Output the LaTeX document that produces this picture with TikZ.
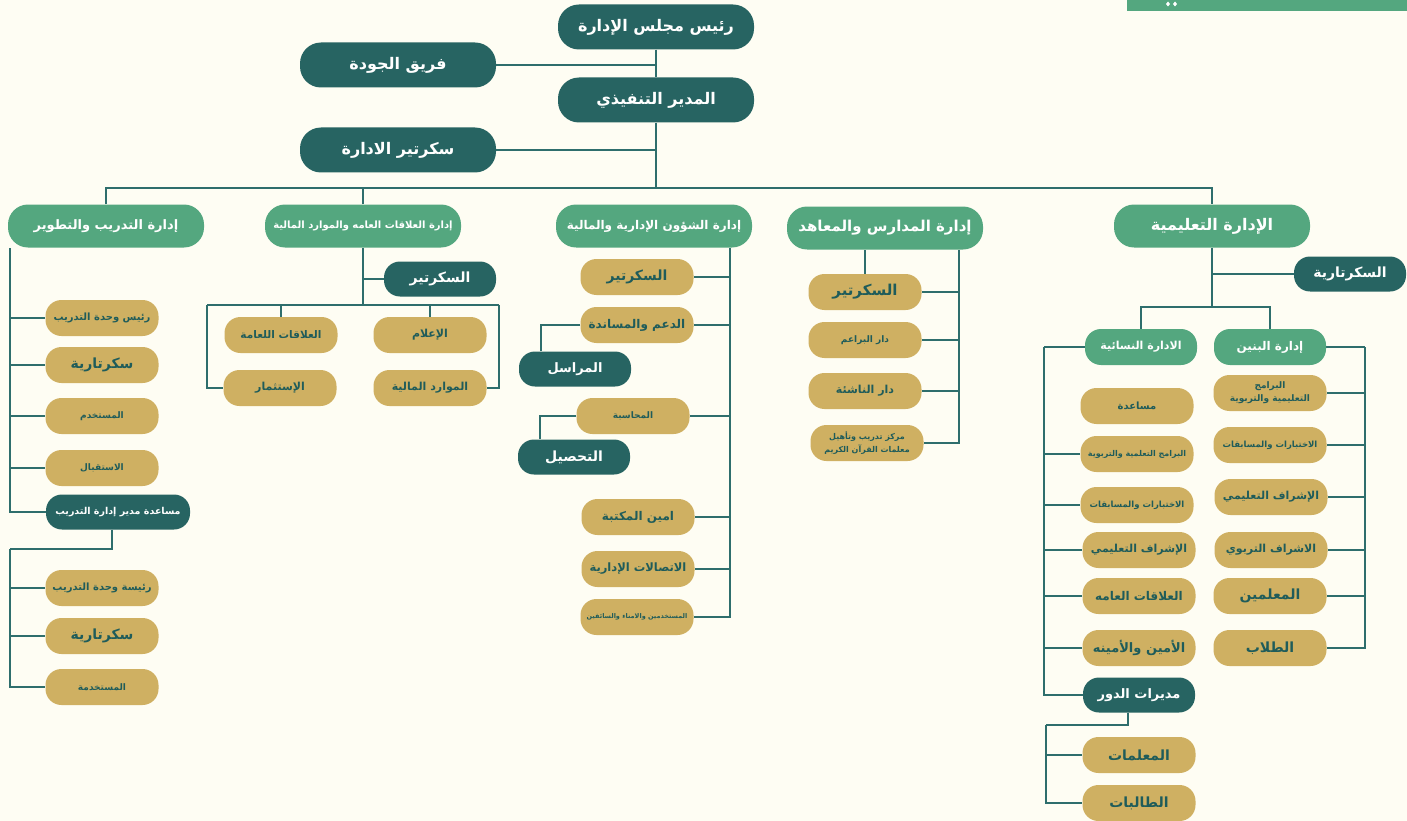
\documentclass[tikz,border=0pt]{standalone}
\usepackage{fontspec}
\newfontfamily\arabicfont[Script=Arabic]{DejaVu Sans}
\TeXXeTstate=1
\newcommand{\artx}[1]{\raisebox{-1.5pt}{\beginR #1\endR}}
\definecolor{bgc}{HTML}{FEFDF3}
\definecolor{dteal}{HTML}{276462}
\definecolor{dgreen}{HTML}{54A77F}
\definecolor{dgold}{HTML}{CFB062}
\definecolor{lteal}{HTML}{2E6E6C}
\definecolor{gtext}{HTML}{1F5C5A}
\pgfdeclarelayer{back}
\pgfdeclarelayer{lines}
\pgfsetlayers{back,lines,main}
\begin{document}
\begin{tikzpicture}[x=1pt,y=-1pt,
  base/.style={rounded corners=16pt, inner sep=0pt, align=center},
  fs/.style={font={\arabicfont\bfseries\fontsize{#1}{14}\selectfont}},
  topbox/.style={base, fill=dteal, text=white, minimum width=196pt, minimum height=45pt, rounded corners=21pt, fs=16},
  deptbox/.style={base, fill=dgreen, text=white, minimum width=196pt, minimum height=43pt, rounded corners=20pt},
  subbox/.style={base, fill=dgreen, text=white, minimum width=112pt, minimum height=36pt},
  goldbox/.style={base, fill=dgold, text=gtext, minimum width=113pt, minimum height=36pt},
  darkbox/.style={base, fill=dteal, text=white, minimum width=112pt, minimum height=35pt},
  conn/.style={draw=lteal, line width=2.2pt}
]
\begin{pgfonlayer}{back}
\fill[bgc] (0,0) rectangle (1407,821);
\fill[dgreen] (1127,0) rectangle (1407,11);
\fill[white] (1168,1.5) -- (1170,4) -- (1168,6.5) -- (1166,4) -- cycle;
\fill[white] (1175,1.5) -- (1177,4) -- (1175,6.5) -- (1173,4) -- cycle;
\end{pgfonlayer}
\useasboundingbox (0,0) rectangle (1407,821);

% top
\node[topbox] (board) at (656,27) {\artx{رئيس مجلس الإدارة}};
\node[topbox] (quality) at (398,65) {\artx{فريق الجودة}};
\node[topbox] (exec) at (656,100) {\artx{المدير التنفيذي}};
\node[topbox] (sec) at (398,150) {\artx{سكرتير الادارة}};

% departments
\node[deptbox, fs=13] (train) at (106,226) {\artx{إدارة التدريب والتطوير}};
\node[deptbox, fs=10] (rel) at (363,226) {\artx{إدارة العلاقات العامه والموارد المالية}};
\node[deptbox, fs=12] (adm) at (654,226) {\artx{إدارة الشؤون الإدارية والمالية}};
\node[deptbox, fs=15] (sch) at (885,228) {\artx{إدارة المدارس والمعاهد}};
\node[deptbox, fs=16] (edu) at (1212,226) {\artx{الإدارة التعليمية}};

% training
\node[goldbox, fs=10] (tr1) at (102,318) {\artx{رئيس وحدة التدريب}};
\node[goldbox, fs=14] (tr2) at (102,365) {\artx{سكرتارية}};
\node[goldbox, fs=9] (tr3) at (102,416) {\artx{المستخدم}};
\node[goldbox, fs=9] (tr4) at (102,468) {\artx{الاستقبال}};
\node[darkbox, fs=9.5, minimum width=144pt] (tra) at (118,512) {\artx{مساعدة مدير إدارة التدريب}};
\node[goldbox, fs=10] (tb1) at (102,588) {\artx{رئيسة وحدة التدريب}};
\node[goldbox, fs=14] (tb2) at (102,636) {\artx{سكرتارية}};
\node[goldbox, fs=9] (tb3) at (102,687) {\artx{المستخدمة}};

% relations
\node[darkbox, fs=14] (relsec) at (440,279) {\artx{السكرتير}};
\node[goldbox, fs=10.5] (pr) at (281,335) {\artx{العلاقات اللعامة}};
\node[goldbox, fs=11] (media) at (430,335) {\artx{الإعلام}};
\node[goldbox, fs=11] (inv) at (280,388) {\artx{الإستثمار}};
\node[goldbox, fs=11] (fin) at (430,388) {\artx{الموارد المالية}};

% admin affairs
\node[goldbox, fs=14] (a1) at (637,277) {\artx{السكرتير}};
\node[goldbox, fs=12] (a2) at (637,325) {\artx{الدعم والمساندة}};
\node[darkbox, fs=13] (mail) at (575,369) {\artx{المراسل}};
\node[goldbox, fs=9] (a3) at (633,416) {\artx{المحاسبة}};
\node[darkbox, fs=14] (coll) at (574,457) {\artx{التحصيل}};
\node[goldbox, fs=12] (a4) at (638,517) {\artx{امين المكتبة}};
\node[goldbox, fs=11.5] (a5) at (638,569) {\artx{الاتصالات الإدارية}};
\node[goldbox, fs=6.5] (a6) at (637,617) {\artx{المستخدمين والامناء والسائقين}};

% schools
\node[goldbox, fs=15] (s1) at (865,292) {\artx{السكرتير}};
\node[goldbox, fs=9] (s2) at (865,340) {\artx{دار البراعم}};
\node[goldbox, fs=11] (s3) at (865,391) {\artx{دار الناشئة}};
\node[goldbox, font={\arabicfont\bfseries\fontsize{8}{13}\selectfont}] (s4) at (867,443) {\artx{مركز تدريب وتأهيل}\\\artx{معلمات القرآن الكريم}};

% educational
\node[darkbox, fs=14] (esec) at (1350,274) {\artx{السكرتارية}};
\node[subbox, fs=11] (women) at (1141,347) {\artx{الادارة النسائية}};
\node[subbox, fs=12] (men) at (1270,347) {\artx{إدارة البنين}};
\node[goldbox, font={\arabicfont\bfseries\fontsize{9}{13}\selectfont}] (m1) at (1270,393) {\artx{البرامج}\\\artx{التعليمية والتربوية}};
\node[goldbox, fs=8.5] (m2) at (1270,445) {\artx{الاختبارات والمسابقات}};
\node[goldbox, fs=11] (m3) at (1271,497) {\artx{الإشراف التعليمي}};
\node[goldbox, fs=11] (m4) at (1271,550) {\artx{الاشراف التربوي}};
\node[goldbox, fs=14] (m5) at (1270,596) {\artx{المعلمين}};
\node[goldbox, fs=14] (m6) at (1270,648) {\artx{الطلاب}};
\node[goldbox, fs=10] (w1) at (1137,406) {\artx{مساعدة}};
\node[goldbox, fs=8] (w2) at (1137,454) {\artx{البرامج التعلمية والتربوية}};
\node[goldbox, fs=8.5] (w3) at (1137,505) {\artx{الاختبارات والمسابقات}};
\node[goldbox, fs=11] (w4) at (1139,550) {\artx{الإشراف التعليمي}};
\node[goldbox, fs=12] (w5) at (1139,596) {\artx{العلاقات العامه}};
\node[goldbox, fs=13] (w6) at (1139,648) {\artx{الأمين والأمينه}};
\node[darkbox, fs=13] (wdir) at (1139,695) {\artx{مديرات الدور}};
\node[goldbox, fs=14] (wt1) at (1139,755) {\artx{المعلمات}};
\node[goldbox, fs=14] (wt2) at (1139,803) {\artx{الطالبات}};

% coordinates
\coordinate (bar) at (656,188);
\coordinate (tTop) at (10,248);
\coordinate (tb) at (10,549);
\coordinate (rb) at (363,305);
\coordinate (rbL) at (207,305);
\coordinate (rbR) at (499,305);
\coordinate (aTop) at (730,248);
\coordinate (sTop) at (959,250);
\coordinate (eb) at (1212,307);
\coordinate (mR) at (1365,347);
\coordinate (wL) at (1044,347);
\coordinate (wb) at (1046,725);

\begin{pgfonlayer}{lines}
\draw[conn] (board.south) -- (exec.north);
\draw[conn] (quality.east) -- (quality.east -| board.south);
\draw[conn] (exec.south) -- (bar);
\draw[conn] (sec.east) -- (sec.east -| exec.south);
\draw[conn] (train.north) -- (train.north |- bar) -- (edu.north |- bar) -- (edu.north);
\draw[conn] (rel.north) -- (rel.north |- bar);
% training
\draw[conn] (tTop) |- (tr1.west);
\draw[conn] (tTop) |- (tr2.west);
\draw[conn] (tTop) |- (tr3.west);
\draw[conn] (tTop) |- (tr4.west);
\draw[conn] (tTop) |- (tra.west);
\draw[conn] ([xshift=-6pt]tra.south) |- (tb);
\draw[conn] (tb) |- (tb1.west);
\draw[conn] (tb) |- (tb2.west);
\draw[conn] (tb) |- (tb3.west);
% relations
\draw[conn] (rel.south) -- (rb);
\draw[conn] (rel.south |- relsec.west) -- (relsec.west);
\draw[conn] (rbL) -- (rbR);
\draw[conn] (rbL) |- (inv.west);
\draw[conn] (rbR) |- (fin.east);
\draw[conn] (pr.north) -- (pr.north |- rb);
\draw[conn] (media.north) -- (media.north |- rb);
% admin
\draw[conn] (aTop) |- (a1.east);
\draw[conn] (aTop) |- (a2.east);
\draw[conn] (aTop) |- (a3.east);
\draw[conn] (aTop) |- (a4.east);
\draw[conn] (aTop) |- (a5.east);
\draw[conn] (aTop) |- (a6.east);
\draw[conn] (a2.west) -| ([xshift=-34pt]mail.north);
\draw[conn] (a3.west) -| ([xshift=-34pt]coll.north);
% schools
\draw[conn] (s1.north) -- (s1.north |- sch.south);
\draw[conn] (sTop) |- (s1.east);
\draw[conn] (sTop) |- (s2.east);
\draw[conn] (sTop) |- (s3.east);
\draw[conn] (sTop) |- (s4.east);
% educational
\draw[conn] (edu.south) -- (eb);
\draw[conn] (edu.south |- esec.west) -- (esec.west);
\draw[conn] (women.north) |- (eb) -| (men.north);
\draw[conn] (men.east) -- (mR);
\draw[conn] (mR) |- (m1.east);
\draw[conn] (mR) |- (m2.east);
\draw[conn] (mR) |- (m3.east);
\draw[conn] (mR) |- (m4.east);
\draw[conn] (mR) |- (m5.east);
\draw[conn] (mR) |- (m6.east);
\draw[conn] (women.west) -- (wL);
\draw[conn] (wL) |- (w2.west);
\draw[conn] (wL) |- (w3.west);
\draw[conn] (wL) |- (w4.west);
\draw[conn] (wL) |- (w5.west);
\draw[conn] (wL) |- (w6.west);
\draw[conn] (wL) |- (wdir.west);
\draw[conn] ([xshift=-11pt]wdir.south) |- (wb);
\draw[conn] (wb) |- (wt1.west);
\draw[conn] (wb) |- (wt2.west);
\end{pgfonlayer}
\end{tikzpicture}
\end{document}
